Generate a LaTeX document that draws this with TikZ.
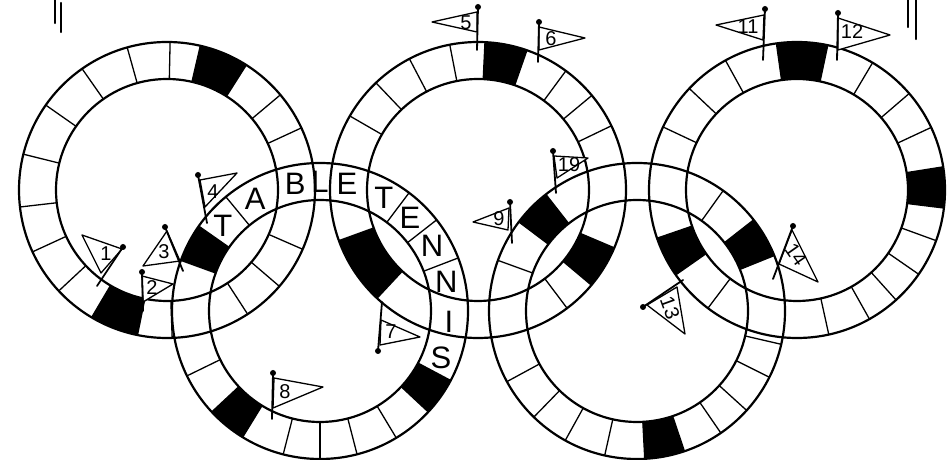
\documentclass[tikz,border=0pt]{standalone}
\usepackage{fontspec}
\setmainfont{Liberation Sans}
\usetikzlibrary{positioning}

% black square of a ring, between two angles (inside a shifted scope)
\newcommand{\darkcell}[2]{\fill (#1:111) -- (#1:148) arc[start angle=#1,end angle=#2,radius=148]
  -- (#2:111) arc[start angle=#2,end angle=#1,radius=111] -- cycle;}
% name, knob, pole foot, pennant corners (3), label spot, label, turn
\newcommand{\flagpin}[9]{%
  \draw[pennant] #4 -- #5 -- #6 -- cycle;
  \draw[pole] #2 -- #3;
  \fill #2 circle[radius=3];
  \node[flagnum,rotate=#9] (#1) at #7 {#8};}

\begin{document}
\begin{tikzpicture}[x=1pt,y=1pt,
    ringline/.style={line width=2.2pt},
    divline/.style={line width=1.3pt},
    pole/.style={line width=1.8pt,line cap=round},
    pennant/.style={draw,fill=white,line width=1.3pt,line join=round},
    flagnum/.style={font=\fontsize{20}{20}\selectfont,inner sep=0pt},
    letter/.style={font=\fontsize{31}{31}\selectfont,inner sep=0pt},
    tally/.style={line width=2.4pt,line cap=round}]
  \useasboundingbox (0,0) rectangle (950,460);

  \coordinate (r1) at (167,270);
  \coordinate (r2) at (478,270);
  \coordinate (r3) at (797,270);
  \coordinate (r4) at (320,149);
  \coordinate (r5) at (637,149);

  % cells
  \begin{scope}[shift={(r1)}]
    \darkcell{57.6}{77} \darkcell{239.4}{258.5}
    \foreach \a in {24.8,40,57.6,77,88.8,105.6,125,145,166,186.6,204.7,223,239.4,258.5,272,303,319.4,336.4}
      \draw[divline] (\a:111) -- (\a:148);
  \end{scope}
  \begin{scope}[shift={(r2)}]
    \darkcell{70.7}{87.3} \darkcell{200}{227} \darkcell{320}{337}
    \foreach \a in {25.7,39.7,53.6,70.7,87.3,101,117.6,133.6,150,200,227,307,320,337}
      \draw[divline] (\a:111) -- (\a:148);
  \end{scope}
  \begin{scope}[shift={(r3)}]
    \darkcell{78}{98} \darkcell{199}{215} \darkcell{-7}{9}
    \foreach \a in {25,40.7,59.3,78,98,118.9,136.7,154.8,199,215,233,282.4,299.3,312,325.3,340,353,9}
      \draw[divline] (\a:111) -- (\a:148);
  \end{scope}
  \begin{scope}[shift={(r4)}]
    \darkcell{145}{160} \darkcell{223}{238.5} \darkcell{317}{332}
    \foreach \a in {21,38,53,129.5,145,160,206,223,238.5,255.6,270,284.5,301,317,332}
      \draw[divline] (\a:111) -- (\a:148);
  \end{scope}
  \begin{scope}[shift={(r5)}]
    \darkcell{22}{38} \darkcell{128}{143} \darkcell{273}{288.7}
    \foreach \a in {22,38,54.4,128,143,160,208.5,225.8,241,257.4,273,288.7,304.5,317.8,333.4,347}
      \draw[divline] (\a:111) -- (\a:148);
  \end{scope}

  % where two bands cross, no cells
  \foreach \ra/\rb in {r1/r4,r2/r4,r2/r5,r3/r5}{
    \begin{scope}
      \clip[shift={(\ra)}] (0:148) arc[start angle=0,end angle=360,radius=148] -- cycle
        (0:111) arc[start angle=360,end angle=0,radius=111] -- cycle;
      \clip[shift={(\rb)}] (0:148) arc[start angle=0,end angle=360,radius=148] -- cycle
        (0:111) arc[start angle=360,end angle=0,radius=111] -- cycle;
      \fill[white] (0,0) rectangle (950,460);
    \end{scope}
  }

  \foreach \c in {r1,r2,r3,r4,r5}
    \draw[ringline] (\c) circle[radius=148] (\c) circle[radius=111];

  % the word round the lower left ring
  \begin{scope}[shift={(r4)}]
    \foreach \l/\a [count=\i] in {T/138.6,A/120,B/101,L/90,E/78,T/60.5,E/46,N/30,N/12.9,I/-4.8,S/-21}
      \node[letter] (t\i) at (\a:129.5) {\l};
  \end{scope}

  % flags
  \flagpin{f1}{(123,213)}{(97,174)}{(122,211)}{(82,225)}{(101,187)}{(106,206)}{1}{0}
  \flagpin{f2}{(142,188)}{(143,149)}{(142,184)}{(173,176)}{(143,158)}{(152,172)}{2}{0}
  \flagpin{f3}{(165,233)}{(183,189)}{(167,229)}{(143,194)}{(180,199)}{(164,208)}{3}{0}
  \flagpin{f4}{(198,285)}{(207,237)}{(200,280)}{(237,287)}{(205,253)}{(213,268)}{4}{0}
  \flagpin{f5}{(478,453)}{(477,410)}{(477,448)}{(432,438)}{(477,428)}{(466,437)}{5}{0}
  \flagpin{f6}{(539,438)}{(538,398)}{(539,433)}{(585,422)}{(539,410)}{(551,421)}{6}{0}
  \flagpin{f7}{(378,109)}{(382,158)}{(381,140)}{(420,123)}{(380,115)}{(391,128)}{7}{0}
  \flagpin{f8}{(273,87)}{(272,41)}{(274,82)}{(323,73)}{(273,52)}{(285,68)}{8}{0}
  \flagpin{f9}{(510,258)}{(512,217)}{(509,252)}{(473,238)}{(508,230)}{(499,241)}{9}{0}
  \flagpin{f10}{(553,309)}{(556,267)}{(554,304)}{(588,302)}{(557,282)}{(569,295)}{19}{0}
  \flagpin{f11}{(765,451)}{(763,400)}{(764,445)}{(716,435)}{(763,420)}{(748,433)}{11}{0}
  \flagpin{f12}{(838,447)}{(837,400)}{(838,442)}{(890,425)}{(838,410)}{(852,428)}{12}{0}
  \flagpin{f13}{(643,153)}{(683,180)}{(647,155)}{(685,126)}{(677,173)}{(670,152)}{13}{-70}
  \flagpin{f14}{(793,234)}{(773,181)}{(792,230)}{(818,178)}{(779,196)}{(796,205)}{14}{-55}

  % marks at the top edge
  \draw[tally] (55,460) -- (55,437);
  \draw[tally] (61,457) -- (61,428);
  \draw[tally] (908,460) -- (908,433);
  \draw[tally] (916,460) -- (916,421);
\end{tikzpicture}
\end{document}
